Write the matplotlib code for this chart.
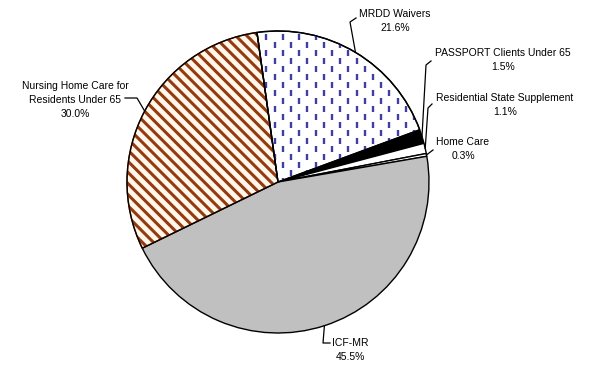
import numpy as np
import matplotlib
matplotlib.use("Agg")
import matplotlib.pyplot as plt
from matplotlib.patches import Wedge

plt.rcParams['font.family'] = ['Liberation Sans', 'DejaVu Sans']
plt.rcParams['hatch.linewidth'] = 2.2

# Share of spending by program
categories = ["MRDD Waivers", "PASSPORT Clients Under 65", "Residential State Supplement",
              "Home Care", "ICF-MR", "Nursing Home Care for\nResidents Under 65"]
shares = [21.6, 1.5, 1.1, 0.3, 45.5, 30.0]
value_labels = ["21.6%", "1.5%", "1.1%", "0.3%", "45.5%", "30.0%"]

W, H = 593, 370
fig = plt.figure(figsize=(W / 100, H / 100), dpi=100)
ax = fig.add_axes([0, 0, 1, 1])
ax.set_aspect('equal')
ax.axis('off')

cx, cy, R = 278, 188, 151
faces = ['white', 'black', 'white', 'white', '#C0C0C0', '#FFF8EA']

wedges, _ = ax.pie(shares, startangle=98, counterclock=False, center=(cx, cy), radius=R,
                   colors=faces, wedgeprops=dict(edgecolor='black', linewidth=1.0))
ax.set_xlim(0, W)
ax.set_ylim(0, H)

# diagonal stripes for the nursing home wedge
nh = wedges[5]
nh.set_hatch('\\\\\\')
nh.set_edgecolor('#953A10')
outline = Wedge((cx, cy), R, nh.theta1, nh.theta2, facecolor='none', edgecolor='black',
                linewidth=1.0, zorder=4)
ax.add_patch(outline)

# dash pattern for the MRDD wedge
xs, ys = [], []
for i, xx in enumerate(np.arange(cx - R, cx + R, 8.2)):
    off = 8.0 if i % 2 else 0.0
    for yy in np.arange(cy - R + off, cy + R, 16.0):
        xs.append(xx); ys.append(yy)
wedges[0].set_zorder(2)
dots = ax.scatter(xs, ys, marker='|', s=22, linewidths=1.7, color='#3E3EA2', zorder=3)
dots.set_clip_path(wedges[0])
edge0 = Wedge((cx, cy), R, wedges[0].theta1, wedges[0].theta2, facecolor='none',
              edgecolor='black', linewidth=1.0, zorder=4)
ax.add_patch(edge0)

# labels with leader lines
lab_pos = [(395, 349), (503, 310), (505, 265), (463, 221), (350, 20), (75, 270)]
leaders = [
    [(356, 352), (350, 348)],
    [(431, 309), (426, 305)],
    [(432, 266), (428, 262)],
    [(433, 220)],
    [(330, 27), (323, 27)],
    [(125, 272), (137, 272)],
]
for i, w in enumerate(wedges):
    mid = np.deg2rad((w.theta1 + w.theta2) / 2)
    px, py = cx + R * np.cos(mid), cy + R * np.sin(mid)
    pts = leaders[i] + [(px, py)]
    ax.plot([p[0] for p in pts], [p[1] for p in pts], color='black', lw=0.9, zorder=5)
    ax.text(lab_pos[i][0], lab_pos[i][1], categories[i] + "\n" + value_labels[i],
            ha='center', va='center', fontsize=7.5, linespacing=1.5, zorder=6)

fig.savefig("out.png", dpi=100)
